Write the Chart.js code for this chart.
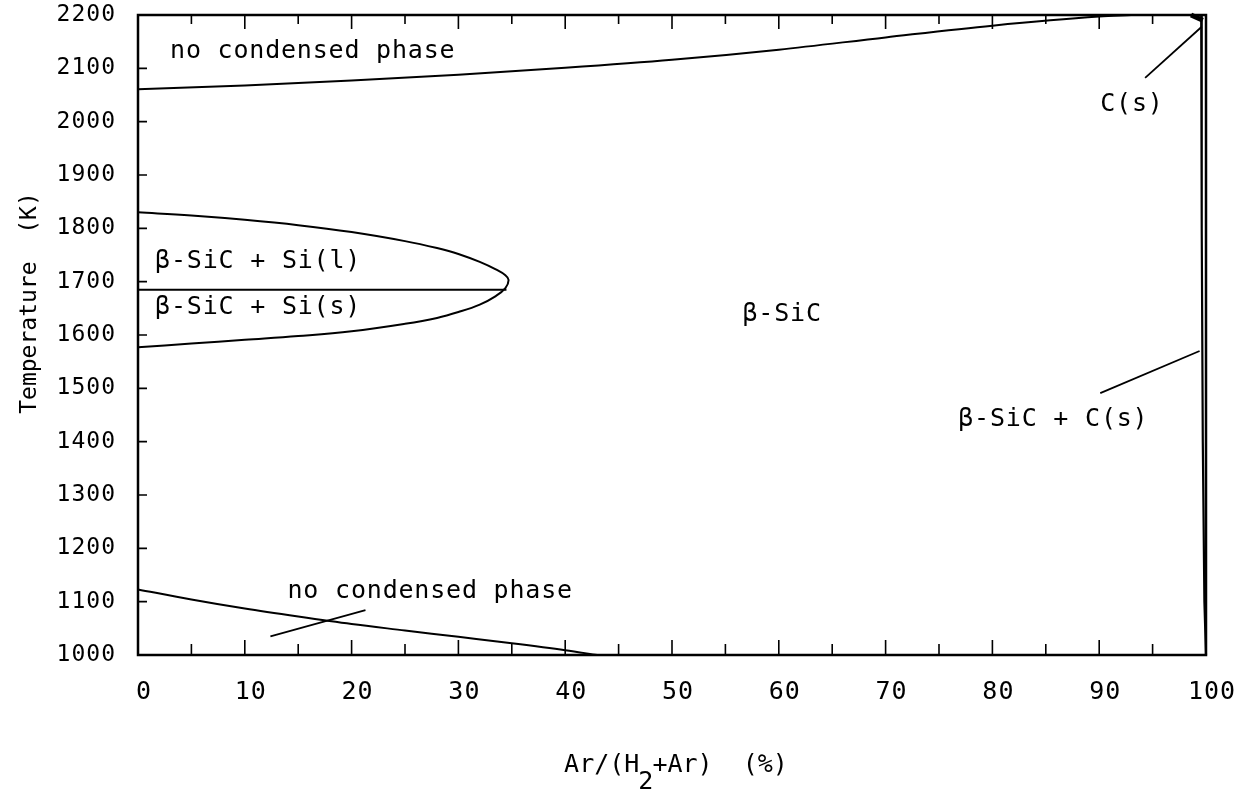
<!DOCTYPE html>
<html>
<head>
<meta charset="utf-8">
<script src="https://cdn.jsdelivr.net/npm/chart.js@4/dist/chart.umd.min.js"></script>
<style>
  html, body { margin: 0; padding: 0; background: #fff; }
</style>
</head>
<body>
<canvas id="phaseChart" width="1242" height="797"></canvas>
<script>
// Axis ranges
const xMin = 0, xMax = 100, xStep = 10;
const tMin = 1000, tMax = 2200, tStep = 100;

// Upper boundary: above it nothing condenses
const upperX = [0, 10, 20, 30, 40, 50, 60, 70, 80, 90, 93];
const upperT = [2061, 2068, 2077, 2088, 2101, 2116, 2135, 2158, 2180, 2197, 2200];

// Beta-SiC + Si lens: upper branch out to the tip, lower branch back to the axis
const lensX = [0, 5, 10, 15, 20, 25, 28, 30, 32, 33.5, 34.4, 34.7, 34.4, 33.5, 32, 30, 28, 25, 20, 15, 10, 5, 0];
const lensT = [1830, 1824, 1816, 1806, 1793, 1776, 1763, 1752, 1737, 1723, 1712, 1703, 1688, 1673, 1657, 1643, 1632, 1621, 1607, 1598, 1591, 1584, 1577];

// Melting point of Si splitting the lens
const meltX = [0, 34.5];
const meltT = [1685, 1685];

// Lower boundary: below it nothing condenses
const lowerX = [0, 5, 10, 15, 20, 25, 30, 35, 40, 43];
const lowerT = [1123, 1104, 1087, 1072, 1058, 1046, 1034, 1022, 1009, 1000];

// Thin C(s) field next to pure Ar
const carbonX = [99.55, 99.6, 99.7, 99.85, 100];
const carbonT = [2200, 1800, 1400, 1100, 1000];
const cornerX = [98.6, 99.7];
const cornerT = [2200, 2190];

// Leader lines for the region names
const leaderX = [[94.3, 99.6], [90.1, 99.4], [12.4, 21.3]];
const leaderT = [[2082, 2178], [1491, 1570], [1035, 1084]];

// Region names (left edge and vertical centre in data units)
const noteText = ['no condensed phase', 'β-SiC + Si(l)', 'β-SiC + Si(s)', 'β-SiC', 'β-SiC + C(s)', 'C(s)', 'no condensed phase'];
const noteX = [3.0, 1.6, 1.6, 56.6, 76.8, 90.1, 14.0];
const noteT = [2132, 1737, 1652, 1639, 1442, 2033, 1119];

const FONT = '"DejaVu Sans Mono", monospace';

function pts(xs, ts) {
  return xs.map((v, i) => ({ x: v, y: ts[i] }));
}

function curve(xs, ts, extra) {
  return Object.assign({
    data: pts(xs, ts),
    showLine: true,
    borderColor: '#000',
    borderWidth: 2,
    pointRadius: 0,
    tension: 0.4,
    clip: 6
  }, extra || {});
}

const datasets = [
  curve(upperX, upperT, { cubicInterpolationMode: 'monotone' }),
  curve(lensX, lensT),
  curve(meltX, meltT, { tension: 0 }),
  curve(lowerX, lowerT, { cubicInterpolationMode: 'monotone' }),
  curve(carbonX, carbonT, { tension: 0, borderWidth: 2.2 }),
  curve(cornerX, cornerT, { tension: 0, borderWidth: 5 })
];
leaderX.forEach((lx, i) => datasets.push(curve(lx, leaderT[i], { tension: 0, borderWidth: 1.8 })));

// frame, inward ticks, region names and axis titles
const decorations = {
  id: 'decorations',
  beforeDraw(chart) {
    chart.ctx.letterSpacing = '1px';
  },
  afterDatasetsDraw(chart) {
    const { ctx, chartArea: a, scales: { x, y } } = chart;
    ctx.save();
    ctx.strokeStyle = '#000';
    ctx.lineWidth = 1.6;
    ctx.beginPath();
    for (let v = xMin + 5; v < xMax; v += 5) {
      const px = x.getPixelForValue(v);
      const major = v % xStep === 0;
      ctx.moveTo(px, a.bottom);
      ctx.lineTo(px, a.bottom - (major ? 15 : 11));
      ctx.moveTo(px, a.top);
      ctx.lineTo(px, a.top + (major ? 14 : 9));
    }
    for (let t = tMin + tStep; t < tMax; t += tStep) {
      const py = y.getPixelForValue(t);
      ctx.moveTo(a.left, py);
      ctx.lineTo(a.left + 9, py);
    }
    ctx.stroke();

    ctx.lineWidth = 2.5;
    ctx.strokeRect(a.left, a.top, a.right - a.left, a.bottom - a.top);

    ctx.fillStyle = '#000';
    ctx.font = '25px ' + FONT;
    ctx.letterSpacing = '0.8px';
    ctx.textBaseline = 'middle';
    ctx.textAlign = 'left';
    noteText.forEach((s, i) => {
      ctx.fillText(s, x.getPixelForValue(noteX[i]), y.getPixelForValue(noteT[i]));
    });

    // x title with subscript
    ctx.font = '25px ' + FONT;
    ctx.letterSpacing = '0px';
    ctx.textBaseline = 'alphabetic';
    const parts = ['Ar/(H', '2', '+Ar)  (%)'];
    const w0 = ctx.measureText(parts[0]).width;
    const w1 = ctx.measureText(parts[1]).width;
    const w2 = ctx.measureText(parts[2]).width;
    const tx = (a.left + a.right) / 2 - (w0 + w1 + w2) / 2 + 5;
    const base = 772;
    ctx.fillText(parts[0], tx, base);
    ctx.fillText(parts[1], tx + w0 - 1, base + 17);
    ctx.fillText(parts[2], tx + w0 + w1 - 2, base);

    // y title
    ctx.font = '23px ' + FONT;
    ctx.translate(30, 303);
    ctx.rotate(-Math.PI / 2);
    ctx.textAlign = 'center';
    ctx.textBaseline = 'middle';
    ctx.fillText('Temperature  (K)', 0, 0);
    ctx.restore();
  }
};

new Chart(document.getElementById('phaseChart'), {
  type: 'scatter',
  data: { datasets: datasets },
  options: {
    responsive: false,
    animation: false,
    layout: { padding: { left: 0, right: 36, top: 15, bottom: 0 } },
    plugins: { legend: { display: false }, tooltip: { enabled: false } },
    scales: {
      x: {
        type: 'linear',
        min: xMin,
        max: xMax,
        grid: { display: false },
        border: { display: false },
        ticks: {
          stepSize: xStep,
          autoSkip: false,
          maxRotation: 0,
          padding: 14,
          labelOffset: 6,
          color: '#000',
          font: { family: FONT, size: 25 }
        },
        afterFit(scale) {
          scale.height = 142;
          scale.paddingLeft = 0;
          scale.paddingRight = 0;
        }
      },
      y: {
        type: 'linear',
        min: tMin,
        max: tMax,
        grid: { display: false },
        border: { display: false },
        ticks: {
          stepSize: tStep,
          autoSkip: false,
          padding: 14,
          color: '#000',
          font: { family: FONT, size: 23 },
          callback: (v) => String(v)
        },
        afterFit(scale) {
          scale.width = 138;
          scale.paddingTop = 0;
          scale.paddingBottom = 0;
        }
      }
    }
  },
  plugins: [decorations]
});
</script>
</body>
</html>
